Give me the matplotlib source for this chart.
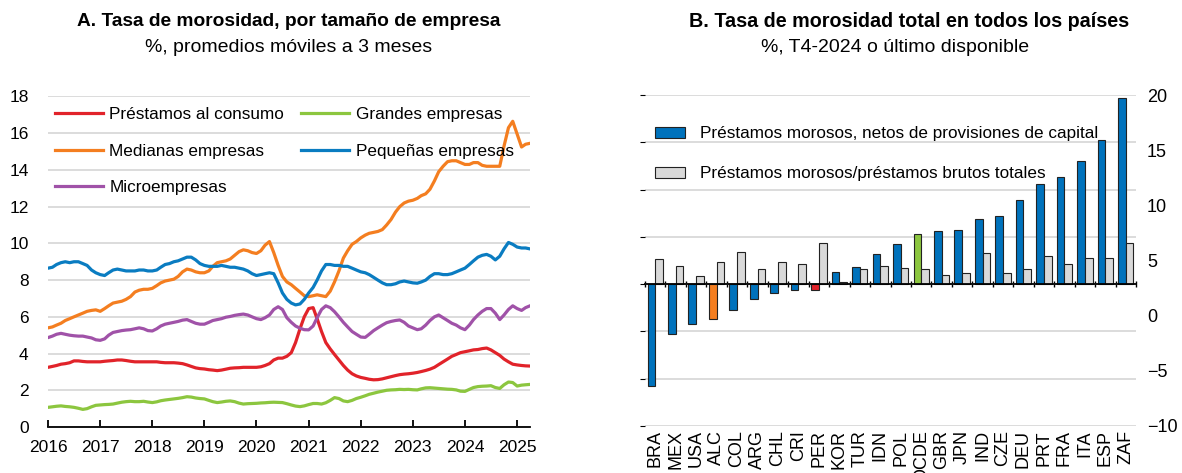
import matplotlib
matplotlib.use("Agg")
import matplotlib.pyplot as plt
import matplotlib.dates as mdates
import numpy as np
import pandas as pd

plt.rcParams['font.family'] = ['Liberation Sans', 'DejaVu Sans']
plt.rcParams['font.size'] = 13

# ---- panel A data: monthly, Jan 2016 - Apr 2025 ----
fechas = pd.date_range("2016-01-01", periods=112, freq="MS")

consumo = [3.25, 3.3, 3.35, 3.42, 3.45, 3.5, 3.6, 3.6, 3.57, 3.55, 3.55, 3.55,
           3.55, 3.58, 3.6, 3.62, 3.65, 3.65, 3.62, 3.58, 3.55, 3.55, 3.55, 3.55,
           3.55, 3.55, 3.52, 3.5, 3.5, 3.5, 3.48, 3.45, 3.38, 3.3, 3.22, 3.18,
           3.16, 3.12, 3.1, 3.07, 3.1, 3.15, 3.2, 3.22, 3.23, 3.25, 3.25, 3.25,
           3.25, 3.28, 3.35, 3.45, 3.65, 3.75, 3.75, 3.85, 4.05, 4.6, 5.35, 6.0,
           6.45, 6.5, 5.9, 5.2, 4.6, 4.25, 3.95, 3.65, 3.35, 3.1, 2.9, 2.78,
           2.7, 2.65, 2.6, 2.57, 2.58, 2.62, 2.68, 2.74, 2.8, 2.85, 2.88, 2.9,
           2.93, 2.97, 3.02, 3.08, 3.15, 3.25, 3.4, 3.55, 3.7, 3.85, 3.95, 4.05,
           4.1, 4.15, 4.2, 4.22, 4.27, 4.3, 4.2, 4.05, 3.9, 3.7, 3.55, 3.42,
           3.38, 3.35, 3.33, 3.32]

medianas = [5.4, 5.45, 5.55, 5.65, 5.8, 5.9, 6.0, 6.1, 6.2, 6.3, 6.35, 6.38,
            6.3, 6.45, 6.6, 6.75, 6.8, 6.85, 6.95, 7.1, 7.35, 7.45, 7.5, 7.5,
            7.55, 7.7, 7.85, 7.95, 8.0, 8.05, 8.2, 8.45, 8.6, 8.55, 8.45, 8.4,
            8.4, 8.5, 8.75, 8.95, 9.0, 9.05, 9.15, 9.35, 9.55, 9.65, 9.6, 9.5,
            9.45, 9.6, 9.9, 10.1, 9.5, 8.8, 8.2, 7.9, 7.75, 7.55, 7.35, 7.15,
            7.1, 7.15, 7.2, 7.15, 7.1, 7.4, 7.9, 8.5, 9.2, 9.6, 9.95, 10.1,
            10.3, 10.45, 10.55, 10.6, 10.65, 10.75, 11.0, 11.3, 11.7, 12.0, 12.2, 12.3,
            12.35, 12.45, 12.6, 12.7, 12.95, 13.4, 13.9, 14.2, 14.45, 14.5, 14.5, 14.4,
            14.3, 14.3, 14.4, 14.4, 14.25, 14.2, 14.2, 14.2, 14.2, 15.3, 16.3, 16.65,
            15.95, 15.25, 15.4, 15.45]

micro = [4.87, 4.95, 5.05, 5.1, 5.05, 5.0, 4.97, 4.95, 4.95, 4.9, 4.85, 4.75,
         4.72, 4.8, 5.0, 5.15, 5.2, 5.25, 5.28, 5.3, 5.35, 5.4, 5.35, 5.25,
         5.23, 5.35, 5.5, 5.6, 5.65, 5.7, 5.75, 5.82, 5.85, 5.75, 5.65, 5.6,
         5.6, 5.7, 5.8, 5.85, 5.9, 5.98, 6.02, 6.08, 6.12, 6.15, 6.1, 6.0,
         5.9, 5.85, 5.95, 6.1, 6.4, 6.55, 6.4, 5.95, 5.7, 5.5, 5.38, 5.3,
         5.29, 5.5, 5.95, 6.4, 6.6, 6.5, 6.28, 6.0, 5.7, 5.45, 5.2, 5.05,
         4.9, 4.88, 5.05, 5.25, 5.4, 5.55, 5.68, 5.75, 5.8, 5.83, 5.7, 5.5,
         5.4, 5.3, 5.35, 5.55, 5.8, 6.0, 6.1, 5.95, 5.8, 5.65, 5.55, 5.4,
         5.3, 5.55, 5.85, 6.1, 6.3, 6.45, 6.45, 6.2, 5.85, 6.1, 6.4, 6.6,
         6.45, 6.35, 6.5, 6.6]

grandes = [1.07, 1.1, 1.13, 1.15, 1.12, 1.1, 1.07, 1.02, 0.96, 1.0, 1.1, 1.18,
           1.2, 1.22, 1.23, 1.25, 1.3, 1.35, 1.38, 1.4, 1.38, 1.38, 1.4, 1.36,
           1.33, 1.37, 1.43, 1.47, 1.5, 1.53, 1.56, 1.6, 1.65, 1.63, 1.58, 1.55,
           1.53, 1.45, 1.38, 1.33, 1.36, 1.4, 1.42, 1.38, 1.3, 1.25, 1.27, 1.28,
           1.29, 1.31, 1.32, 1.34, 1.35, 1.34, 1.33, 1.27, 1.2, 1.14, 1.11, 1.15,
           1.22, 1.28, 1.28, 1.25, 1.32, 1.45, 1.6, 1.55, 1.42, 1.38, 1.45, 1.55,
           1.62, 1.7, 1.78, 1.84, 1.9, 1.95, 2.0, 2.02, 2.03, 2.05, 2.04, 2.05,
           2.03, 2.02, 2.08, 2.13, 2.14, 2.12, 2.1, 2.08, 2.06, 2.05, 2.02, 1.95,
           1.94, 2.05, 2.15, 2.2, 2.22, 2.23, 2.25, 2.15, 2.1, 2.3, 2.45, 2.42,
           2.23, 2.28, 2.3, 2.32]

pequenas = [8.65, 8.7, 8.85, 8.95, 9.0, 8.95, 9.0, 9.0, 8.9, 8.8, 8.55, 8.4,
            8.3, 8.25, 8.4, 8.55, 8.6, 8.55, 8.5, 8.5, 8.5, 8.55, 8.55, 8.5,
            8.5, 8.55, 8.7, 8.85, 8.9, 9.0, 9.05, 9.15, 9.25, 9.25, 9.1, 8.9,
            8.8, 8.75, 8.75, 8.75, 8.8, 8.75, 8.7, 8.7, 8.65, 8.6, 8.5, 8.35,
            8.25, 8.3, 8.35, 8.4, 8.35, 7.85, 7.3, 6.95, 6.75, 6.65, 6.7, 6.95,
            7.3, 7.6, 8.0, 8.5, 8.85, 8.85, 8.8, 8.8, 8.75, 8.75, 8.65, 8.55,
            8.45, 8.4, 8.3, 8.15, 8.0, 7.85, 7.75, 7.75, 7.8, 7.9, 7.95, 7.9,
            7.85, 7.83, 7.9, 8.0, 8.2, 8.35, 8.35, 8.3, 8.3, 8.35, 8.45, 8.55,
            8.65, 8.85, 9.05, 9.25, 9.35, 9.4, 9.3, 9.1, 9.3, 9.7, 10.05, 9.95,
            9.8, 9.75, 9.75, 9.7]

# ---- panel B data ----
paises = ["BRA", "MEX", "USA", "ALC", "COL", "ARG", "CHL", "CRI", "PER", "KOR",
          "TUR", "IDN", "POL", "OCDE", "GBR", "JPN", "IND", "CZE", "DEU", "PRT",
          "FRA", "ITA", "ESP", "ZAF"]
netos = [-10.8, -5.3, -4.2, -3.7, -2.75, -1.6, -0.9, -0.6, -0.6, 1.3,
         1.8, 3.2, 4.2, 5.3, 5.6, 5.7, 6.9, 7.2, 8.9, 10.6,
         11.3, 13.0, 15.2, 19.7]
brutos = [2.65, 1.95, 0.9, 2.35, 3.45, 1.55, 2.3, 2.1, 4.35, 0.2,
          1.6, 1.9, 1.75, 1.65, 1.0, 1.2, 3.3, 1.15, 1.65, 3.0,
          2.1, 2.8, 2.8, 4.4]

rojo = "#E1232A"
naranja = "#F47E20"
morado = "#A052A8"
verde = "#8CC63F"
azul = "#0A7CC1"
gris_grid = "#D9D9D9"

fig = plt.figure(figsize=(11.82, 4.73), dpi=100)

# ---------------- Panel A ----------------
ax1 = fig.add_axes([48/1182, 1-427/473, (530-48)/1182, (427-96.5)/473])
ax1.plot(fechas, consumo, color=rojo, lw=2.3, label="Préstamos al consumo")
ax1.plot(fechas, medianas, color=naranja, lw=2.3, label="Medianas empresas")
ax1.plot(fechas, micro, color=morado, lw=2.3, label="Microempresas")
ax1.plot(fechas, grandes, color=verde, lw=2.3, label="Grandes empresas")
ax1.plot(fechas, pequenas, color=azul, lw=2.3, label="Pequeñas empresas")

ax1.set_ylim(0, 18)
ax1.set_yticks(range(0, 19, 2))
ax1.set_xlim(fechas[0], fechas[-1])
ax1.xaxis.set_major_locator(mdates.YearLocator())
ax1.xaxis.set_major_formatter(mdates.DateFormatter("%Y"))
ax1.grid(axis="y", color=gris_grid, lw=1.3)
ax1.set_axisbelow(True)
for s in ["left", "right", "top"]:
    ax1.spines[s].set_visible(False)
ax1.spines["bottom"].set_linewidth(1.3)
ax1.tick_params(axis="y", length=0, pad=14, labelsize=12.5)
ax1.tick_params(axis="x", direction="in", length=5, width=1.3, pad=9, labelsize=12.5)

ax1.legend(ncol=2, loc="upper left", bbox_to_anchor=(0.014, 0.967), frameon=False,
           borderaxespad=0, borderpad=0, handlelength=2.8, handletextpad=0.4,
           columnspacing=1.0, labelspacing=1.26, fontsize=12.3)

fig.text(289/1182, 1-21/473, "A. Tasa de morosidad, por tamaño de empresa",
         ha="center", va="center", fontsize=13.8, fontweight="bold")
fig.text(289/1182, 1-47/473, "%, promedios móviles a 3 meses",
         ha="center", va="center", fontsize=14)

# ---------------- Panel B ----------------
ax2 = fig.add_axes([645/1182, 1-426/473, (1136-645)/1182, (426-95)/473])
x = np.arange(len(paises))
w = 0.375
resaltes = {"ALC": naranja, "PER": rojo, "OCDE": verde}
colores = [resaltes.get(p, "#0072BC") for p in paises]
ax2.bar(x - w/2, netos, w, color=colores, edgecolor="#222222", lw=0.8,
        label="Préstamos morosos, netos de provisiones de capital")
ax2.bar(x + w/2, brutos, w, color="#D9D9D9", edgecolor="#222222", lw=0.8,
        label="Préstamos morosos/préstamos brutos totales")

ax2.set_xlim(-0.5, len(paises) - 0.5)
ax2.set_ylim(-15, 20)
ax2.set_yticks(range(-15, 21, 5))
ax2.grid(axis="y", color=gris_grid, lw=1.3)
ax2.set_axisbelow(True)
ax2.tick_params(axis="y", left=False, labelleft=False)
for s in ["left", "right", "top"]:
    ax2.spines[s].set_visible(False)
ax2.spines["bottom"].set_position(("data", 0))
ax2.spines["bottom"].set_linewidth(1.3)
ax2.set_xticks(np.arange(-0.5, len(paises), 1))
ax2.tick_params(axis="x", direction="inout", length=5, width=1.0, labelbottom=False)

etiquetas = ax2.secondary_xaxis("bottom")
etiquetas.set_xticks(x, paises, rotation=90, va="top")
etiquetas.tick_params(length=0, pad=3)
etiquetas.spines["bottom"].set_visible(False)

der = ax2.twinx()
der.set_ylim(-10, 20)
der.set_yticks(range(-10, 21, 5))
for s in ["left", "right", "top", "bottom"]:
    der.spines[s].set_visible(False)
der.tick_params(axis="y", length=0, pad=8, labelsize=13)

ax2.legend(loc="upper left", bbox_to_anchor=(0.02, 0.905), frameon=False,
           borderaxespad=0, borderpad=0, handlelength=1.75, handleheight=0.65,
           handletextpad=0.88, labelspacing=1.45, fontsize=12.3)

fig.text(909/1182, 1-21/473, "B. Tasa de morosidad total en todos los países",
         ha="center", va="center", fontsize=14.2, fontweight="bold")
fig.text(895/1182, 1-47/473, "%, T4-2024 o último disponible",
         ha="center", va="center", fontsize=14)

fig.savefig("out.png", dpi=100)
